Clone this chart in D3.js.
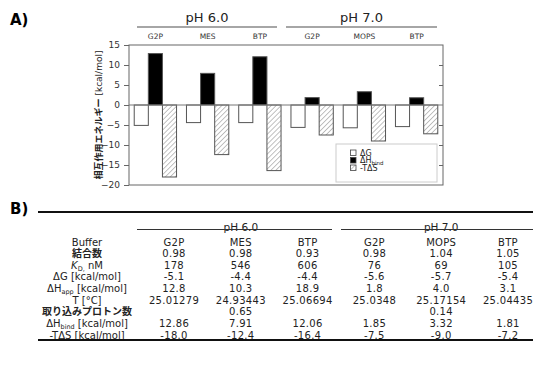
<!DOCTYPE html>
<html>
<head>
<meta charset="utf-8">
<script src="https://cdn.jsdelivr.net/npm/d3@7"></script>
<style>
  body { margin: 0; background: #fff; }
  text { font-family: "DejaVu Sans", sans-serif; }
  .jp { font-family: "Noto Sans CJK JP", sans-serif; }
</style>
</head>
<body>
<div id="chart"></div>
<script>
// data
const buffers = ["G2P", "MES", "BTP", "G2P", "MOPS", "BTP"];
const phGroups = ["pH 6.0", "pH 7.0"];
const dG = [-5.1, -4.4, -4.4, -5.6, -5.7, -5.4];
const dHbind = [12.86, 7.91, 12.06, 1.85, 3.32, 1.81];
const mTdS = [-18.0, -12.4, -16.4, -7.5, -9.0, -7.2];
const yTicks = [15, 10, 5, 0, -5, -10, -15, -20];

const bindNum = ["0.98", "0.98", "0.93", "0.98", "1.04", "1.05"];
const kd = ["178", "546", "606", "76", "69", "105"];
const dGtab = ["-5.1", "-4.4", "-4.4", "-5.6", "-5.7", "-5.4"];
const dHapp = ["12.8", "10.3", "18.9", "1.8", "4.0", "3.1"];
const temps = ["25.01279", "24.93443", "25.06694", "25.0348", "25.17154", "25.04435"];
const protons = ["", "0.65", "", "", "0.14", ""];
const dHbindTab = ["12.86", "7.91", "12.06", "1.85", "3.32", "1.81"];
const mTdStab = ["-18.0", "-12.4", "-16.4", "-7.5", "-9.0", "-7.2"];

const svg = d3.select("#chart").append("svg")
  .attr("width", 534).attr("height", 371);

const defs = svg.append("defs");
const pat = defs.append("pattern")
  .attr("id", "hatch").attr("patternUnits", "userSpaceOnUse")
  .attr("width", 3.5).attr("height", 3.5)
  .attr("patternTransform", "rotate(45)");
pat.append("rect").attr("width", 3.5).attr("height", 3.5).attr("fill", "#fff");
pat.append("line").attr("x1", 0).attr("y1", 0).attr("x2", 0).attr("y2", 3.5)
  .attr("stroke", "#777").attr("stroke-width", 0.9);

// ---------- A) ----------
svg.append("text").attr("x", 10).attr("y", 25)
  .attr("font-size", 15).attr("font-weight", "bold").attr("font-family", "Liberation Sans, Arial")
  .text("A)");

const plot = { left: 129, right: 443, top: 45, bottom: 185 };

const x0 = d3.scaleBand().domain(d3.range(buffers.length))
  .range([plot.left, plot.right]).paddingInner(0.19).paddingOuter(0.1);
const x1 = d3.scaleBand().domain(["dG", "dH", "tS"]).range([0, x0.bandwidth()]);
const y = d3.scaleLinear().domain([-20, 15]).range([plot.bottom, plot.top]);

// frame
svg.append("rect").attr("x", plot.left).attr("y", plot.top)
  .attr("width", plot.right - plot.left).attr("height", plot.bottom - plot.top)
  .attr("fill", "none").attr("stroke", "#666").attr("stroke-width", 1);

const leftAxis = svg.append("g").attr("transform", `translate(${plot.left},0)`)
  .call(d3.axisLeft(y).tickValues(yTicks).tickSize(5).tickPadding(4));
leftAxis.select(".domain").remove();
leftAxis.selectAll("line").attr("stroke", "#666");
leftAxis.selectAll("text").attr("font-size", 9).attr("fill", "#333");

const rightAxis = svg.append("g").attr("transform", `translate(${plot.right},0)`)
  .call(d3.axisRight(y).tickValues(yTicks.filter(v => v < 15 && v > -20 && v !== 0)).tickSize(-4).tickFormat(""));
rightAxis.select(".domain").remove();
rightAxis.selectAll("line").attr("stroke", "#666");

const series = [
  { key: "dG", values: dG, fill: "#fff" },
  { key: "dH", values: dHbind, fill: "#000" },
  { key: "tS", values: mTdS, fill: "url(#hatch)" }
];

series.forEach(s => {
  svg.append("g").selectAll("rect")
    .data(s.values)
    .enter()
    .append("rect")
    .attr("x", (d, i) => x0(i) + x1(s.key))
    .attr("y", d => y(Math.max(0, d)))
    .attr("width", x1.bandwidth())
    .attr("height", d => Math.abs(y(d) - y(0)))
    .attr("fill", s.fill)
    .attr("stroke", "#555")
    .attr("stroke-width", 1);
});

// zero line
svg.append("line").attr("x1", plot.left).attr("x2", plot.right)
  .attr("y1", y(0)).attr("y2", y(0)).attr("stroke", "#777").attr("stroke-width", 1);

// buffer labels
svg.append("g").selectAll("text").data(buffers).enter().append("text")
  .attr("x", (d, i) => x0(i) + x0.bandwidth() / 2)
  .attr("y", 39)
  .attr("text-anchor", "middle")
  .attr("font-size", 7.5).attr("fill", "#333")
  .text(d => d);

// pH headers
const phX = [[137, 277], [286, 437]];
phGroups.forEach((p, i) => {
  svg.append("line").attr("x1", phX[i][0]).attr("x2", phX[i][1])
    .attr("y1", 27).attr("y2", 27).attr("stroke", "#888").attr("stroke-width", 1.3);
  svg.append("text").attr("x", (phX[i][0] + phX[i][1]) / 2).attr("y", 22)
    .attr("text-anchor", "middle").attr("font-size", 13).attr("fill", "#222")
    .text(p);
});

// y label
const yl = svg.append("text")
  .attr("transform", `translate(102, ${(plot.top + plot.bottom) / 2}) rotate(-90)`)
  .attr("text-anchor", "middle").attr("font-size", 9).attr("fill", "#222");
yl.append("tspan").attr("class", "jp").attr("font-weight", "bold").text("相互作用エネルギー");
yl.append("tspan").text(" [kcal/mol]");

// legend
const lg = svg.append("g");
lg.append("rect").attr("x", 336).attr("y", 144).attr("width", 101).attr("height", 38)
  .attr("fill", "#fff").attr("stroke", "#ccc").attr("stroke-width", 1);
const legendItems = [
  { fill: "#fff", label: "ΔG" },
  { fill: "#000", label: "ΔH", sub: "bind" },
  { fill: "url(#hatch)", label: "-TΔS" }
];
legendItems.forEach((it, i) => {
  const ly = 150 + i * 7.5;
  lg.append("rect").attr("x", 350.5).attr("y", ly).attr("width", 5.5).attr("height", 5.5)
    .attr("fill", it.fill).attr("stroke", "#444").attr("stroke-width", 0.8);
  const t = lg.append("text").attr("x", 360).attr("y", ly + 5.8)
    .attr("font-size", 8).attr("fill", "#222").text(it.label);
  if (it.sub) t.append("tspan").attr("font-size", 5.5).attr("dy", 1.5).text(it.sub);
});

// ---------- B) ----------
svg.append("text").attr("x", 10).attr("y", 214)
  .attr("font-size", 15).attr("font-weight", "bold").attr("font-family", "Liberation Sans, Arial")
  .text("B)");

svg.append("line").attr("x1", 38).attr("x2", 533).attr("y1", 212).attr("y2", 212)
  .attr("stroke", "#111").attr("stroke-width", 1.8);

const colX = d3.scalePoint().domain(d3.range(buffers.length)).range([174, 508]);
const tabPh = [[137, 332], [341, 533]];
phGroups.forEach((p, i) => {
  svg.append("text").attr("x", (colX(i * 3) + colX(i * 3 + 2)) / 2).attr("y", 230.5)
    .attr("text-anchor", "middle").attr("font-size", 10.5).attr("fill", "#222").text(p);
  svg.append("line").attr("x1", tabPh[i][0]).attr("x2", tabPh[i][1])
    .attr("y1", 229.5).attr("y2", 229.5).attr("stroke", "#333").attr("stroke-width", 1);
});

const rows = [
  { label: [{ t: "Buffer" }], vals: buffers },
  { label: [{ t: "結合数", jp: true }], vals: bindNum },
  { label: [{ t: "K", it: true }, { t: "D,", sub: true }, { t: " nM", up: true }], vals: kd },
  { label: [{ t: "ΔG [kcal/mol]" }], vals: dGtab },
  { label: [{ t: "ΔH" }, { t: "app", sub: true }, { t: " [kcal/mol]", up: true }], vals: dHapp },
  { label: [{ t: "T [°C]" }], vals: temps },
  { label: [{ t: "取り込みプロトン数", jp: true }], vals: protons },
  { label: [{ t: "ΔH" }, { t: "bind", sub: true }, { t: " [kcal/mol]", up: true }], vals: dHbindTab },
  { label: [{ t: "-TΔS [kcal/mol]" }], vals: mTdStab }
];

const rowY = d3.scalePoint().domain(d3.range(rows.length)).range([245.5, 338.5]);

rows.forEach((r, ri) => {
  const t = svg.append("text").attr("x", 87).attr("y", rowY(ri))
    .attr("text-anchor", "middle").attr("font-size", 10).attr("fill", "#222");
  r.label.forEach(p => {
    const ts = t.append("tspan").text(p.t);
    if (p.jp) ts.attr("class", "jp").attr("font-weight", "bold");
    if (p.it) ts.attr("font-style", "italic");
    if (p.sub) ts.attr("font-size", 6.5).attr("dy", 2);
    if (p.up) ts.attr("dy", -2);
  });
  svg.append("g").selectAll("text").data(r.vals).enter().append("text")
    .attr("x", (d, i) => colX(i)).attr("y", rowY(ri))
    .attr("text-anchor", "middle").attr("font-size", 10).attr("letter-spacing", 0.3)
    .attr("fill", "#222")
    .text(d => d);
});

svg.append("line").attr("x1", 38).attr("x2", 533).attr("y1", 340).attr("y2", 340)
  .attr("stroke", "#111").attr("stroke-width", 1.8);
</script>
</body>
</html>
